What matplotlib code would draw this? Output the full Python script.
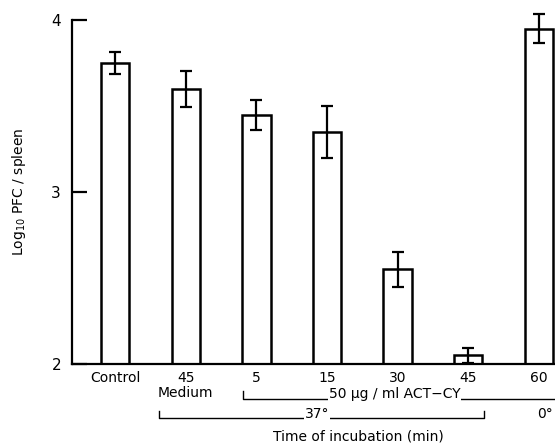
import numpy as np
import matplotlib
matplotlib.use('Agg')
import matplotlib.pyplot as plt
from matplotlib.transforms import blended_transform_factory

# data
labels = ['Control', '45', '5', '15', '30', '45', '60']
log_pfc = [3.75, 3.60, 3.45, 3.35, 2.55, 2.05, 3.95]
err = [0.065, 0.105, 0.087, 0.152, 0.10, 0.045, 0.083]

plt.rcParams['font.family'] = ['DejaVu Sans']
fig = plt.figure(figsize=(5.55, 4.44), dpi=100)
ax = fig.add_axes([0.13, 0.18, 0.87, 0.775])

x = np.arange(len(labels))
ax.bar(x, np.array(log_pfc) - 2, bottom=2, width=0.4, color='white',
       edgecolor='black', linewidth=1.8, zorder=2)
ax.errorbar(x, log_pfc, yerr=err, fmt='none', ecolor='black', elinewidth=1.6,
            capsize=4, capthick=1.6, zorder=3, clip_on=False)

ax.set_xlim(-0.61, 6.23)
ax.set_ylim(2, 4)
ax.set_yticks([2, 3, 4])
ax.set_yticklabels(['2', '3', '4'], fontsize=11)
ax.set_xticks(x)
ax.set_xticklabels(labels, fontsize=10)
ax.tick_params(axis='x', length=0, pad=5)
ax.tick_params(axis='y', direction='in', length=11, width=1.6, pad=8)
ax.spines['top'].set_visible(False)
ax.spines['right'].set_visible(False)
ax.spines['left'].set_linewidth(1.6)
ax.spines['bottom'].set_linewidth(1.6)
ax.set_ylabel(r'Log$_{10}$ PFC / spleen', fontsize=10, labelpad=17)

# group brackets under the axis
tr = blended_transform_factory(ax.transData, fig.transFigure)
lw = 1.0
# 50 ug/ml ACT-CY bracket
ax.plot([1.81, 1.81, 6.3], [0.119, 0.101, 0.101], color='black', lw=lw,
        transform=tr, clip_on=False)
ax.text(3.96, 0.112, '50 µg / ml ACT\u2212CY', transform=tr, ha='center',
        va='center', fontsize=10,
        bbox=dict(facecolor='white', edgecolor='none', pad=0.5))
ax.text(0.99, 0.115, 'Medium', transform=tr, ha='center', va='center', fontsize=10)
# 37 degrees bracket
ax.plot([0.62, 0.62, 5.23, 5.23], [0.075, 0.0586, 0.0586, 0.075], color='black',
        lw=lw, transform=tr, clip_on=False)
ax.text(2.86, 0.068, '37°', transform=tr, ha='center', va='center', fontsize=10,
        bbox=dict(facecolor='white', edgecolor='none', pad=0.5))
ax.text(6.09, 0.068, '0°', transform=tr, ha='center', va='center', fontsize=10)
ax.text(3.44, 0.016, 'Time of incubation (min)', transform=tr, ha='center',
        va='center', fontsize=10)

fig.savefig('out.png', dpi=100)
